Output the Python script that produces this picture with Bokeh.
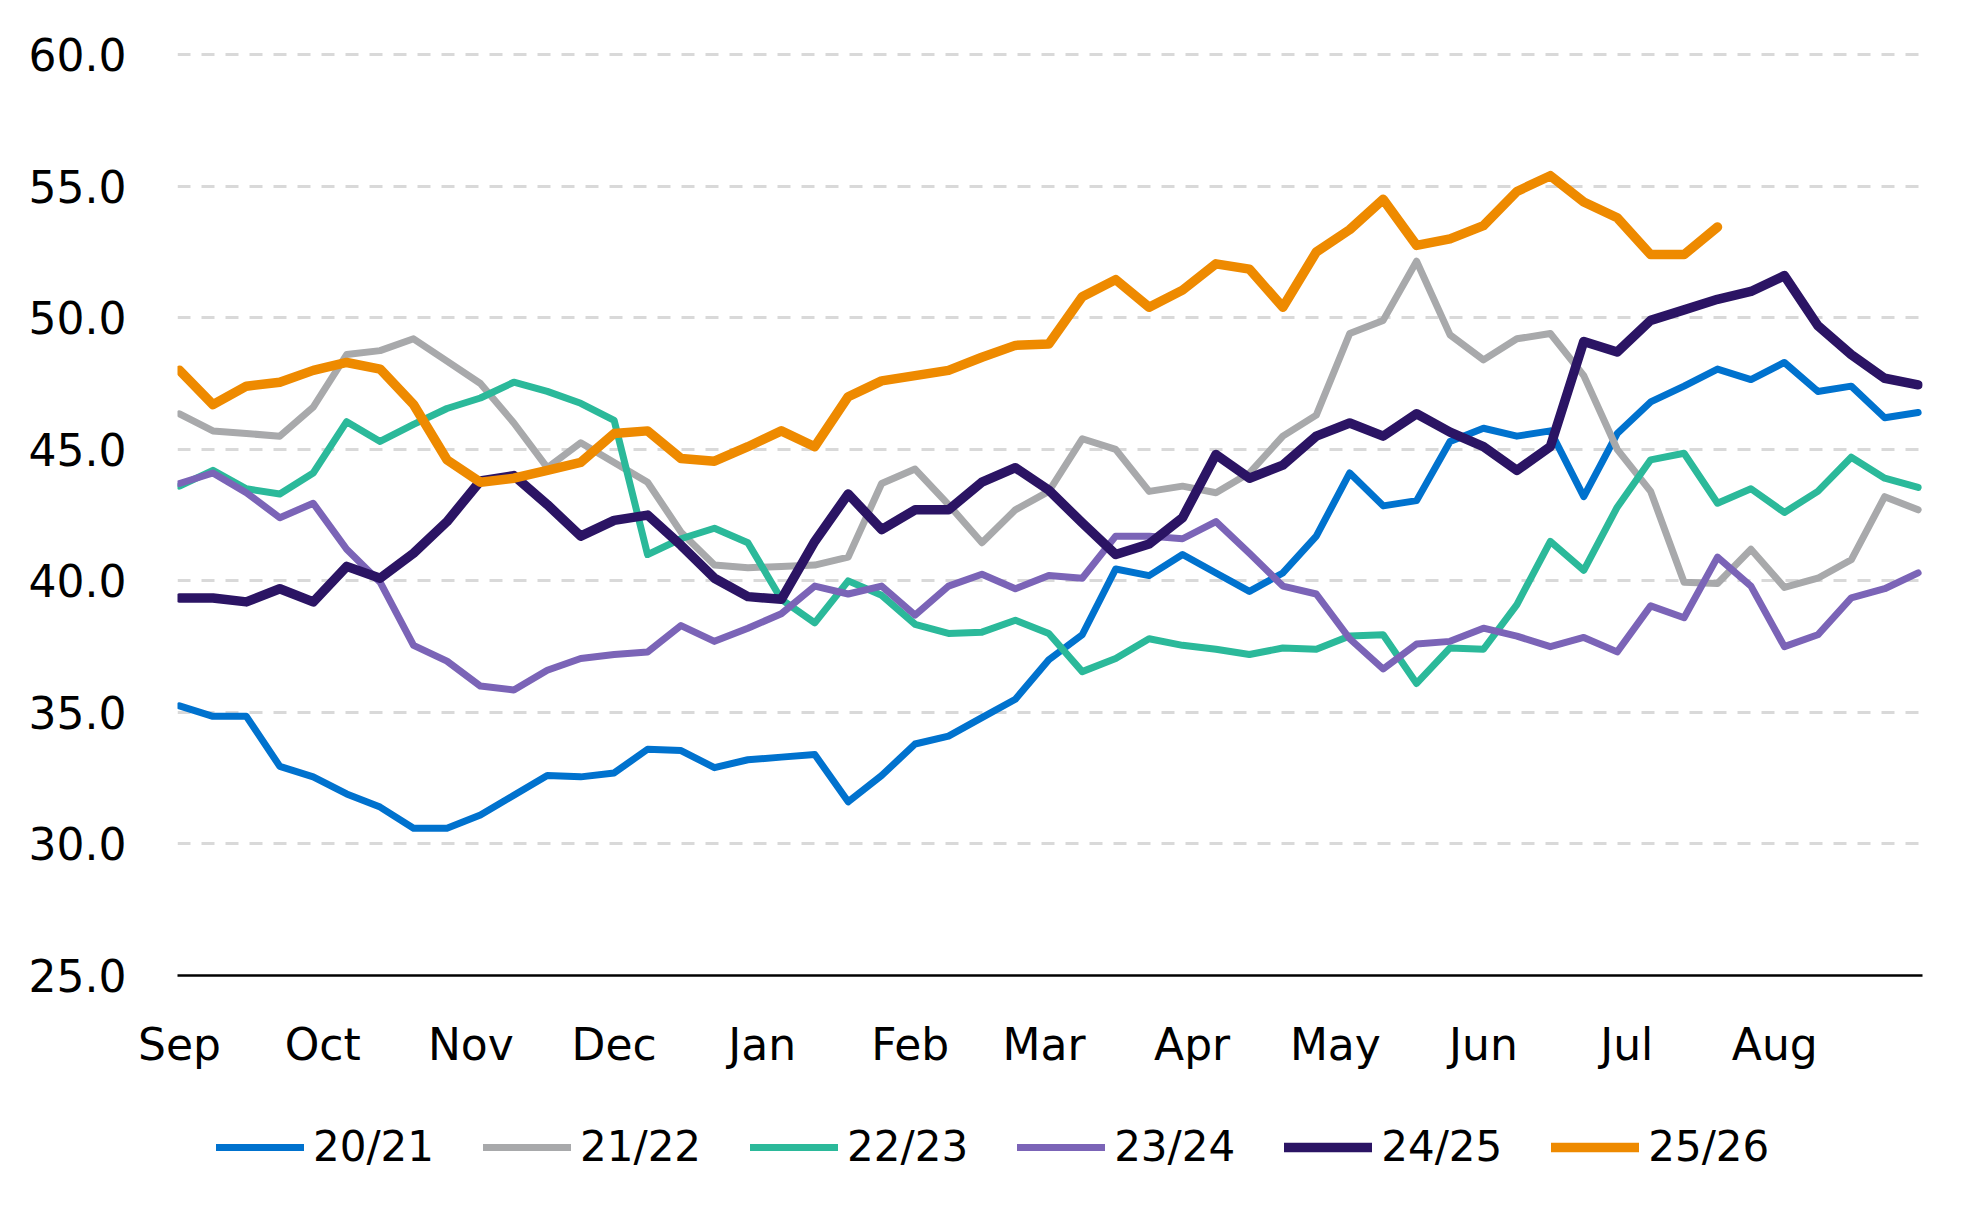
import pandas as pd
from bokeh.plotting import figure
from bokeh.layouts import column
from bokeh.models import (Range1d, FixedTicker, MonthsTicker, DatetimeTickFormatter,
                          PrintfTickFormatter, Legend, LegendItem)
from bokeh.embed import file_html
from bokeh.resources import INLINE

# weekly observations, season starting 1 Sep
weeks = pd.date_range("2024-09-01", periods=53, freq="7D")

seasons = ["20/21", "21/22", "22/23", "23/24", "24/25", "25/26"]

s20_21 = [35.25, 34.85, 34.85, 32.95, 32.55, 31.9, 31.4, 30.6, 30.6, 31.1, 31.85, 32.6, 32.55, 32.7, 33.6,
          33.55, 32.9, 33.2, 33.3, 33.4, 31.6, 32.6, 33.8, 34.1, 34.8, 35.5, 37.0, 37.95,
          40.45, 40.2, 41.0, 40.3, 39.6, 40.3, 41.7, 44.1, 42.85, 43.05, 45.3,
          45.8, 45.5, 45.7, 43.2, 45.6, 46.8, 47.4, 48.05, 47.65, 48.3, 47.2, 47.4, 46.2, 46.4]
s21_22 = [46.35, 45.7, 45.6, 45.5, 46.6, 48.6, 48.75, 49.2, 48.35, 47.5, 46.0, 44.3, 45.25, 44.5, 43.75,
          41.85, 40.6, 40.5, 40.55, 40.6, 40.9, 43.7, 44.25, 42.9, 41.45, 42.7, 43.4, 45.4,
          45.0, 43.4, 43.6, 43.35, 44.1, 45.5, 46.3, 49.4, 49.9, 52.15, 49.35,
          48.4, 49.2, 49.4, 47.8, 45.0, 43.4, 39.95, 39.9, 41.2, 39.75, 40.1, 40.8, 43.2, 42.7]
s22_23 = [43.6, 44.2, 43.5, 43.3, 44.1, 46.05, 45.3, 45.95, 46.55, 46.95, 47.55, 47.2, 46.75, 46.1, 41.0,
          41.6, 42.0, 41.45, 39.3, 38.4, 40.0, 39.45, 38.35, 38.0, 38.05, 38.5, 38.0, 36.55,
          37.05, 37.8, 37.55, 37.4, 37.2, 37.45, 37.4, 37.9, 37.95, 36.1, 37.45,
          37.4, 39.1, 41.5, 40.4, 42.8, 44.6, 44.85, 42.95, 43.5, 42.6, 43.4, 44.7, 43.9, 43.55]
s23_24 = [43.7, 44.1, 43.35, 42.4, 42.95, 41.2, 39.95, 37.55, 36.95, 36.0, 35.85, 36.6, 37.05, 37.2, 37.3,
          38.3, 37.7, 38.2, 38.75, 39.8, 39.5, 39.8, 38.7, 39.8, 40.25, 39.7, 40.2, 40.1,
          41.7, 41.7, 41.6, 42.25, 41.05, 39.8, 39.5, 37.8, 36.65, 37.6, 37.7,
          38.2, 37.9, 37.5, 37.85, 37.3, 39.05, 38.6, 40.9, 39.8, 37.5, 37.95, 39.35, 39.7, 40.3]
s24_25 = [39.35, 39.35, 39.2, 39.7, 39.2, 40.55, 40.1, 41.05, 42.25, 43.8, 44.0, 42.9, 41.7, 42.3, 42.5,
          41.35, 40.1, 39.4, 39.3, 41.5, 43.3, 41.95, 42.7, 42.7, 43.75, 44.3, 43.45, 42.2,
          41.0, 41.4, 42.4, 44.8, 43.9, 44.4, 45.5, 46.0, 45.5, 46.35, 45.65,
          45.1, 44.2, 45.1, 49.1, 48.7, 49.9, 50.3, 50.7, 51.0, 51.6, 49.7, 48.6, 47.7, 47.45]
s25_26 = [48.0, 46.7, 47.4, 47.55, 48.0, 48.3, 48.05, 46.7, 44.6, 43.75, 43.9, 44.2, 44.5, 45.6, 45.7,
          44.65, 44.55, 45.1, 45.7, 45.1, 47.0, 47.6, 47.8, 48.0, 48.5, 48.95, 49.0, 50.8,
          51.45, 50.4, 51.05, 52.05, 51.85, 50.4, 52.5, 53.35, 54.5, 52.75, 53.0,
          53.5, 54.8, 55.4, 54.4, 53.8, 52.4, 52.4, 53.45]

series = [s20_21, s21_22, s22_23, s23_24, s24_25, s25_26]
colors = ["#0072CE", "#A8A9AB", "#2BB99A", "#7B64B7", "#2B1464", "#EE8A00"]
widths = [7, 7, 7, 7, 9.5, 9.5]
y_ticks = [25, 30, 35, 40, 45, 50, 55, 60]

FONT = "DejaVu Sans"

x0 = weeks[0].to_pydatetime() - pd.Timedelta(hours=10).to_pytimedelta()
x1 = weeks[-1].to_pydatetime() + pd.Timedelta(hours=22).to_pytimedelta()

W = 1956
H_MAIN = 1093
H_LEG = 1204 - H_MAIN

p = figure(width=W, height=H_MAIN, x_axis_type="datetime",
           output_backend="svg", toolbar_location=None,
           x_range=Range1d(x0, x1), y_range=Range1d(25, 60.5),
           min_border_left=177, min_border_right=34, min_border_top=41, min_border_bottom=118)
p.outline_line_color = None
p.background_fill_color = "white"
p.border_fill_color = "white"

renderers = []
for vals, c, w in zip(series, colors, widths):
    r = p.line(weeks[:len(vals)], vals, line_color=c, line_width=w,
               line_join="round", line_cap="round")
    renderers.append(r)

# y axis
p.yaxis.ticker = FixedTicker(ticks=y_ticks)
p.yaxis.formatter = PrintfTickFormatter(format="%.1f")
p.yaxis.axis_line_color = None
p.yaxis.major_tick_line_color = None
p.yaxis.minor_tick_line_color = None
p.yaxis.major_label_text_font = FONT
p.yaxis.major_label_text_font_size = "44px"
p.yaxis.major_label_text_color = "#000000"
p.yaxis.major_label_standoff = 45

# x axis
p.xaxis.ticker = MonthsTicker(months=list(range(12)))
p.xaxis.formatter = DatetimeTickFormatter(days="%b", months="%b", years="%b")
p.xaxis.axis_line_color = "#000000"
p.xaxis.axis_line_width = 2.7
p.xaxis.major_tick_line_color = None
p.xaxis.minor_tick_line_color = None
p.xaxis.major_label_text_font = FONT
p.xaxis.major_label_text_font_size = "44px"
p.xaxis.major_label_text_color = "#000000"
p.xaxis.major_label_standoff = 37

# grid
p.xgrid.visible = False
p.ygrid.ticker = FixedTicker(ticks=y_ticks[1:])
p.ygrid.grid_line_color = "#D9D9D9"
p.ygrid.grid_line_width = 3
p.ygrid.grid_line_dash = "13 11"

# legend strip below the chart (same series, kept outside this strip's visible ranges)
pl = figure(width=W, height=H_LEG, output_backend="svg", toolbar_location=None,
            x_axis_location=None, y_axis_location=None,
            x_range=Range1d(0, 1), y_range=Range1d(0, 1),
            min_border=0, min_border_left=0, min_border_right=0,
            min_border_top=0, min_border_bottom=0)
pl.outline_line_color = None
pl.xgrid.visible = False
pl.ygrid.visible = False
pl.background_fill_color = "white"
pl.border_fill_color = "white"

leg_renderers = []
for vals, c, w in zip(series, colors, widths):
    r = pl.line(weeks[:len(vals)], vals, line_color=c, line_width=w, line_cap="round")
    leg_renderers.append(r)

items = [LegendItem(label=s, renderers=[r]) for s, r in zip(seasons, leg_renderers)]
legend = Legend(items=items, orientation="horizontal", location=(39, 33),
                glyph_width=88, glyph_height=30, label_standoff=9, spacing=49,
                padding=0, margin=0, border_line_color=None, background_fill_alpha=0,
                label_text_font=FONT, label_text_font_size="42px",
                label_text_color="#000000", label_text_baseline="middle")
pl.add_layout(legend, "center")

layout = column(p, pl, spacing=0)
open("out.html", "w").write(file_html(layout, INLINE))
